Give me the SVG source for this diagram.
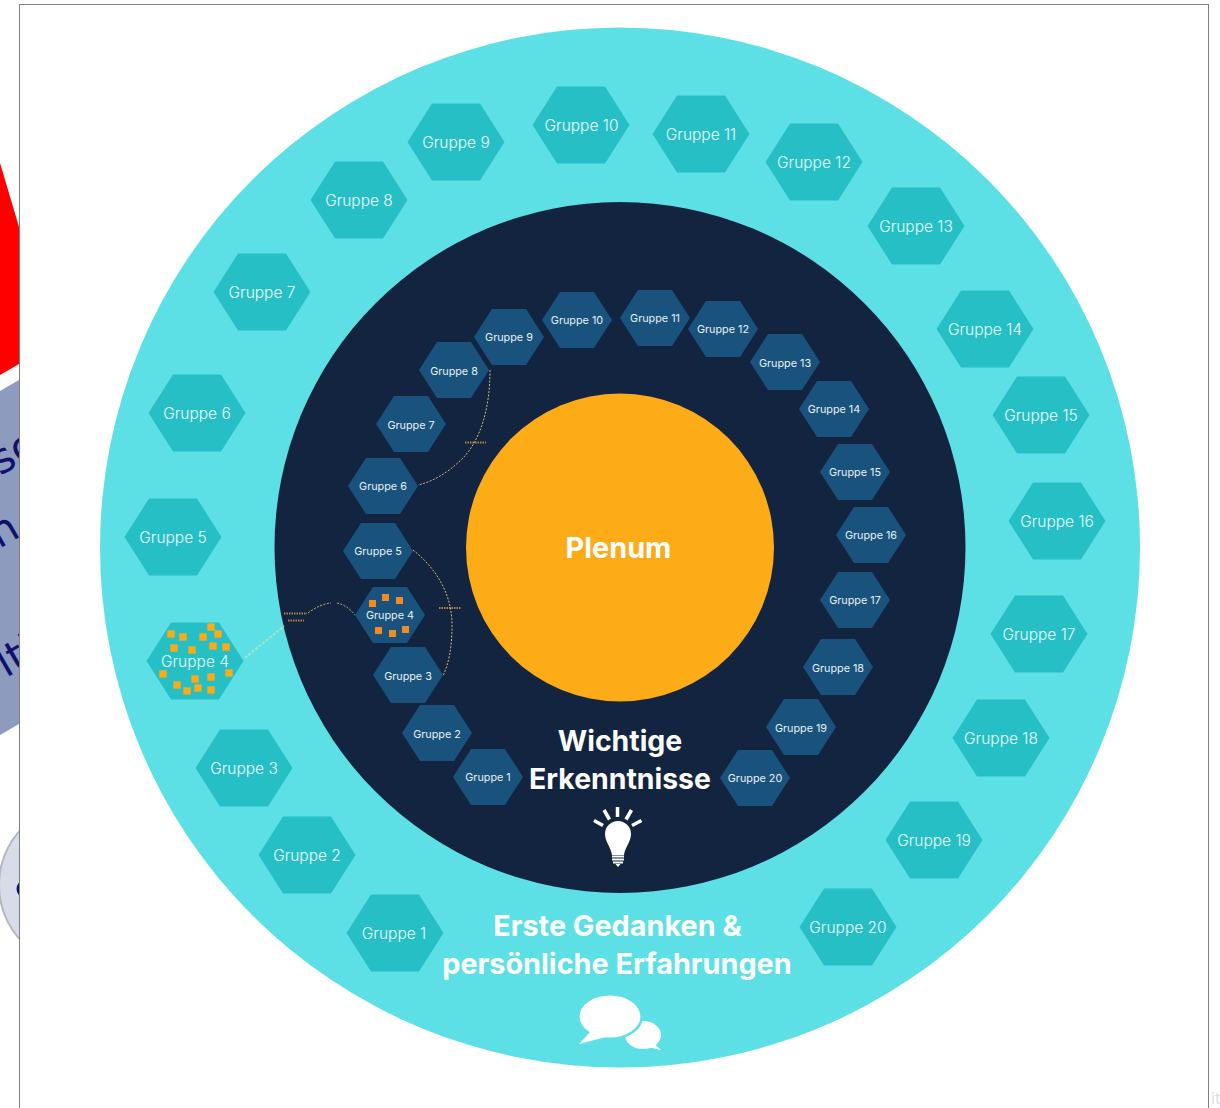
<svg xmlns="http://www.w3.org/2000/svg" width="1220" height="1108" viewBox="0 0 1220 1108">
<style>
text{font-family:Inter,"Liberation Sans",sans-serif}
.o{fill:#27bfc6}.i{fill:#1a527e}
.ot{font-size:15.500px;font-weight:300;fill:#e6fafa;text-anchor:middle}
.it{font-size:10.800px;fill:#e6f0f5;text-anchor:middle}
.h{font-weight:700;fill:#fff;text-anchor:middle;font-size:28.400px}
.h2{font-size:28.800px}
.frag{font-family:"DejaVu Sans",sans-serif;font-size:42px;fill:#10106e}
.sq{fill:#fbab18}.sq2{fill:#f58a1f}
.c{fill:none;stroke:#d9b878;stroke-width:1;stroke-dasharray:2 1.500}
.m{fill:none;stroke:#e8b050;stroke-width:2;stroke-dasharray:1.500 1;opacity:.7}
</style>
<defs>
<polygon id="ho" points="-48.500,0 -24,-38.500 24,-38.500 48.500,0 24,38.500 -24,38.500"/>
<polygon id="hi" points="-35,0 -17,-28 17,-28 35,0 17,28 -17,28"/>
<rect id="s1" x="-3.700" y="-3.700" width="7.400" height="7.400"/>
</defs>
<rect width="1220" height="1108" fill="#fff"/>
<g id="left-fragments">
<polygon points="0,163 19,227 19,364 0,375" fill="#f00"/>
<polygon points="0,391 19,380 19,724 0,735" fill="#8d9bbf"/>
<text class="frag" transform="translate(0,476) rotate(-30)">sc</text>
<text class="frag" transform="translate(-1,549) rotate(-30)">n</text>
<text class="frag" transform="translate(6,678) rotate(-30)">lti</text>
<circle cx="80.500" cy="885" r="81.500" fill="#d8dce8" stroke="#b4b6bc" stroke-width="2"/>
<ellipse cx="24" cy="889" rx="7.500" ry="8" fill="#10106e"/>
</g>
<rect id="panel" x="19.500" y="4.500" width="1189" height="1200" fill="#fff" stroke="#7f7f7f"/>
<text x="1211" y="1104" font-size="16" fill="#dcdcdc">it</text>
<circle id="outer-ring" cx="620" cy="547.500" r="520" fill="#5ce0e6"/>
<circle id="inner-ring" cx="620" cy="547.500" r="345.500" fill="#12243f"/>
<g id="plenum"><circle cx="620" cy="547.500" r="154" fill="#fdab16"/><text class="h h2" x="618.500" y="558">Plenum</text></g>

<g id="outer-groups">
<g id="o1"><use href="#ho" class="o" x="395" y="933"/><text class="ot" x="394" y="939">Gruppe 1</text></g>
<g id="o2"><use href="#ho" class="o" x="307" y="855"/><text class="ot" x="307" y="861">Gruppe 2</text></g>
<g id="o3"><use href="#ho" class="o" x="244" y="768"/><text class="ot" x="244" y="774">Gruppe 3</text></g>
<g id="o4"><use href="#ho" class="o" x="195" y="661"/>
<use href="#s1" class="sq" x="171" y="634"/><use href="#s1" class="sq" x="183" y="637"/><use href="#s1" class="sq" x="203" y="637"/><use href="#s1" class="sq" x="211" y="627"/><use href="#s1" class="sq" x="218" y="634"/><use href="#s1" class="sq" x="174" y="648"/><use href="#s1" class="sq" x="192" y="650"/><use href="#s1" class="sq" x="213" y="646"/><use href="#s1" class="sq" x="226" y="647"/><use href="#s1" class="sq" x="163" y="674"/><use href="#s1" class="sq" x="177" y="685"/><use href="#s1" class="sq" x="187" y="691"/><use href="#s1" class="sq" x="198" y="688"/><use href="#s1" class="sq" x="211" y="690"/><use href="#s1" class="sq" x="195" y="679"/><use href="#s1" class="sq" x="211" y="677"/><use href="#s1" class="sq" x="229" y="673"/>
<text class="ot" x="195" y="667">Gruppe 4</text></g>
<g id="o5"><use href="#ho" class="o" x="173" y="537"/><text class="ot" x="173" y="543">Gruppe 5</text></g>
<g id="o6"><use href="#ho" class="o" x="197" y="413"/><text class="ot" x="197" y="419">Gruppe 6</text></g>
<g id="o7"><use href="#ho" class="o" x="262" y="292"/><text class="ot" x="262" y="298">Gruppe 7</text></g>
<g id="o8"><use href="#ho" class="o" x="359" y="200"/><text class="ot" x="359" y="206">Gruppe 8</text></g>
<g id="o9"><use href="#ho" class="o" x="456" y="142"/><text class="ot" x="456" y="148">Gruppe 9</text></g>
<g id="o10"><use href="#ho" class="o" x="581" y="125"/><text class="ot" x="581.500" y="131">Gruppe 10</text></g>
<g id="o11"><use href="#ho" class="o" x="701" y="134"/><text class="ot" x="701" y="140">Gruppe 11</text></g>
<g id="o12"><use href="#ho" class="o" x="814" y="162"/><text class="ot" x="814" y="168">Gruppe 12</text></g>
<g id="o13"><use href="#ho" class="o" x="916" y="226"/><text class="ot" x="916" y="232">Gruppe 13</text></g>
<g id="o14"><use href="#ho" class="o" x="985" y="329"/><text class="ot" x="985" y="335">Gruppe 14</text></g>
<g id="o15"><use href="#ho" class="o" x="1041" y="415"/><text class="ot" x="1041" y="421">Gruppe 15</text></g>
<g id="o16"><use href="#ho" class="o" x="1057" y="521"/><text class="ot" x="1057" y="527">Gruppe 16</text></g>
<g id="o17"><use href="#ho" class="o" x="1039" y="634"/><text class="ot" x="1039" y="640">Gruppe 17</text></g>
<g id="o18"><use href="#ho" class="o" x="1001" y="738"/><text class="ot" x="1001" y="744">Gruppe 18</text></g>
<g id="o19"><use href="#ho" class="o" x="934" y="840"/><text class="ot" x="934" y="846">Gruppe 19</text></g>
<g id="o20"><use href="#ho" class="o" x="848" y="927"/><text class="ot" x="848" y="933">Gruppe 20</text></g>
</g>

<g id="inner-groups">
<g id="i1"><use href="#hi" class="i" x="488" y="777"/><text class="it" x="488" y="781">Gruppe 1</text></g>
<g id="i2"><use href="#hi" class="i" x="437" y="733"/><text class="it" x="437" y="738">Gruppe 2</text></g>
<g id="i3"><use href="#hi" class="i" x="408" y="675"/><text class="it" x="408" y="680">Gruppe 3</text></g>
<g id="i4"><use href="#hi" class="i" x="390" y="615"/>
<rect class="sq2" x="369" y="600" width="7" height="7"/><rect class="sq2" x="382" y="594" width="7" height="7"/><rect class="sq2" x="396" y="597" width="7" height="7"/><rect class="sq2" x="375" y="627" width="7" height="7"/><rect class="sq2" x="389" y="630" width="7" height="7"/><rect class="sq2" x="402" y="626" width="7" height="7"/>
<text class="it" x="390" y="619">Gruppe 4</text></g>
<g id="i5"><use href="#hi" class="i" x="378" y="551"/><text class="it" x="378" y="555">Gruppe 5</text></g>
<g id="i6"><use href="#hi" class="i" x="383" y="486"/><text class="it" x="383" y="490">Gruppe 6</text></g>
<g id="i7"><use href="#hi" class="i" x="411" y="424"/><text class="it" x="411" y="429">Gruppe 7</text></g>
<g id="i8"><use href="#hi" class="i" x="454" y="370"/><text class="it" x="454" y="375">Gruppe 8</text></g>
<g id="i9"><use href="#hi" class="i" x="509" y="337"/><text class="it" x="509" y="341">Gruppe 9</text></g>
<g id="i10"><use href="#hi" class="i" x="577" y="320"/><text class="it" x="577" y="324">Gruppe 10</text></g>
<g id="i11"><use href="#hi" class="i" x="655" y="318"/><text class="it" x="655" y="322">Gruppe 11</text></g>
<g id="i12"><use href="#hi" class="i" x="723" y="329"/><text class="it" x="723" y="333">Gruppe 12</text></g>
<g id="i13"><use href="#hi" class="i" x="785" y="362"/><text class="it" x="785" y="367">Gruppe 13</text></g>
<g id="i14"><use href="#hi" class="i" x="834" y="409"/><text class="it" x="834" y="413">Gruppe 14</text></g>
<g id="i15"><use href="#hi" class="i" x="855" y="472"/><text class="it" x="855" y="476">Gruppe 15</text></g>
<g id="i16"><use href="#hi" class="i" x="871" y="535"/><text class="it" x="871" y="539">Gruppe 16</text></g>
<g id="i17"><use href="#hi" class="i" x="855" y="600"/><text class="it" x="855" y="604">Gruppe 17</text></g>
<g id="i18"><use href="#hi" class="i" x="838" y="667"/><text class="it" x="838" y="672">Gruppe 18</text></g>
<g id="i19"><use href="#hi" class="i" x="801" y="727"/><text class="it" x="801" y="732">Gruppe 19</text></g>
<g id="i20"><use href="#hi" class="i" x="755" y="778"/><text class="it" x="755" y="782">Gruppe 20</text></g>
</g>

<g id="connectors">
<path d="M245 658L284 626" fill="none" stroke="#a8e4c4" stroke-width="2" stroke-dasharray="3 1.500"/>
<path class="c" d="M308 613Q320 604 331 603M337 603Q347 605 355 615"/>
<path class="m" d="M284 613.500H307M288 620.500H304"/>
<path class="c" d="M413 550C432 565 452 590 452 625C452 650 448 665 443 676"/>
<path class="m" d="M439 608H461"/>
<path class="c" d="M490 370C490 410 480 440 463 458C450 471 435 481 418 485"/>
<path class="m" d="M465 442.500H486"/>
</g>

<g id="insights">
<text class="h" x="620" y="751">Wichtige</text>
<text class="h" x="620" y="789">Erkenntnisse</text>
<g id="bulb" fill="#fff">
<path d="M605 834A13 13 0 1 1 631 834C631 842 625 847 624 855H612C611 847 605 842 605 834Z"/>
<path d="M612 856.500H624M612 859.500H624M613 862.500H623" stroke="#fff" stroke-width="1.800" fill="none"/>
<path d="M615.500 864H620.500L618 867Z"/>
<path d="M617.500 807V817M604 810L609.500 819.500M631.500 810L626 819.500M594 820.500L603 825.500M641.500 820.500L632 825.500" stroke="#fff" stroke-width="3.500" fill="none"/>
</g>
</g>
<g id="first-thoughts">
<text class="h h2" x="617.500" y="936">Erste Gedanken &amp;</text>
<text class="h h2" x="617" y="974">persönliche Erfahrungen</text>
<g id="bubbles" fill="#fff">
<ellipse cx="643" cy="1035" rx="18" ry="14"/>
<path d="M650 1040L661 1050L640 1045Z"/>
<ellipse cx="610" cy="1016.500" rx="33" ry="23.500" fill="#5ce0e6"/>
<ellipse cx="610" cy="1016.500" rx="30.500" ry="21"/>
<path d="M592 1030L579 1044L606 1037Z"/>
</g>
</g>
</svg>
